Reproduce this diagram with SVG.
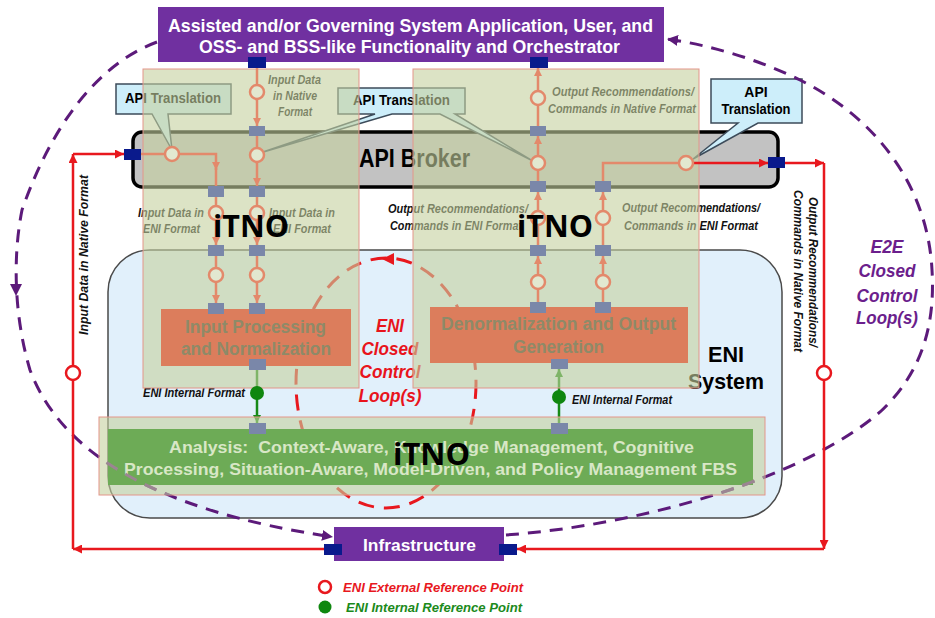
<svg xmlns="http://www.w3.org/2000/svg" width="935" height="618" viewBox="0 0 935 618">
<defs>
<style>
.lbl{font-family:"Liberation Sans",Arial,sans-serif;font-weight:bold;font-style:italic;font-size:12px;fill:#111}
.b{font-family:"Liberation Sans",Arial,sans-serif;font-weight:bold}
.ov{fill:#c4d09f;fill-opacity:0.6;stroke:#e3958a;stroke-width:1}
.pd{fill:#0a1a8c}
.pg{fill:#7a87a9}
.fl{fill:none;stroke:#e3896b;stroke-width:2.5}
.fc{fill:#e2e8d0;stroke:#e3896b;stroke-width:2.5}
.rd{fill:none;stroke:#e8181e;stroke-width:2.5}
.gr{fill:none;stroke:#178a17;stroke-width:2.5}
.co{fill:#cdeefa;stroke:#3c4b5a;stroke-width:1.5}
.pu{fill:none;stroke:#5c1a7a;stroke-width:3;stroke-dasharray:13 9}
</style>
<marker id="aR" viewBox="0 0 10 10" refX="10" refY="5" markerWidth="9" markerHeight="9" markerUnits="userSpaceOnUse" orient="auto"><path d="M0,0L10,5L0,10z" fill="#e8181e"/></marker>
<marker id="aS" viewBox="0 0 10 10" refX="10" refY="5" markerWidth="8" markerHeight="8" markerUnits="userSpaceOnUse" orient="auto"><path d="M0,0L10,5L0,10z" fill="#e3896b"/></marker>
<marker id="aG" viewBox="0 0 10 10" refX="10" refY="5" markerWidth="8" markerHeight="8" markerUnits="userSpaceOnUse" orient="auto"><path d="M0,0L10,5L0,10z" fill="#178a17"/></marker>
<marker id="aP" viewBox="0 0 10 10" refX="10" refY="5" markerWidth="11" markerHeight="11" markerUnits="userSpaceOnUse" orient="auto"><path d="M0,0L10,5L0,10z" fill="#5c1a7a"/></marker>
<marker id="aE" viewBox="0 0 10 10" refX="5" refY="5" markerWidth="12" markerHeight="12" markerUnits="userSpaceOnUse" orient="auto"><path d="M0,0L10,5L0,10z" fill="#e8181e"/></marker>
<clipPath id="botov"><rect x="99" y="417" width="666" height="78"/></clipPath>
</defs>
<rect width="935" height="618" fill="#fff"/>

<g id="eni-system">
<rect x="108" y="250" width="674" height="268" rx="42" fill="#e1f0fb" stroke="#4a4a4a" stroke-width="1.5"/>
</g>

<g id="api-broker">
<rect x="133" y="132" width="645" height="55" rx="9" fill="#c2c2c2" stroke="#000" stroke-width="3.5"/>
<text class="b" x="359" y="167" font-size="25" textLength="111" lengthAdjust="spacingAndGlyphs" fill="#000">API Broker</text>
</g>

<g id="orchestrator">
<rect x="158" y="7" width="506" height="55" fill="#7030a0"/>
<text class="b" x="168" y="32" font-size="19" fill="#fff" textLength="485" lengthAdjust="spacingAndGlyphs">Assisted and/or Governing System Application, User, and</text>
<text class="b" x="199" y="53" font-size="19" fill="#fff" textLength="421" lengthAdjust="spacingAndGlyphs">OSS- and BSS-like Functionality and Orchestrator</text>
</g>

<g id="callouts">
<g id="callout-left"><path class="co" d="M116,84H231V114H168L172,150L152,114H116Z"/>
<text class="b" x="125" y="103" font-size="14" textLength="96" lengthAdjust="spacingAndGlyphs" fill="#000">API Translation</text></g>
<g id="callout-mid"><path class="co" d="M338,88H465V114H455L531,160L440,114H392L260,153L375,114H338Z"/>
<text class="b" x="353" y="105" font-size="14" textLength="97" lengthAdjust="spacingAndGlyphs" fill="#000">API Translation</text></g>
<g id="callout-right"><path class="co" d="M711,79H802V123H758L693,159L738,123H711Z"/>
<text class="b" x="756" y="97" font-size="14" text-anchor="middle" fill="#000">API</text>
<text class="b" x="756" y="114" font-size="14" text-anchor="middle" textLength="69" lengthAdjust="spacingAndGlyphs" fill="#000">Translation</text></g>
</g>

<g id="eni-loop">
<ellipse cx="386" cy="383" rx="90" ry="125" fill="none" stroke="#e8181e" stroke-width="3" stroke-dasharray="16 10"/>
<path d="M382,259L394,253L394,265Z" fill="#e8181e"/>
<g class="b" font-style="italic" font-size="18" fill="#e8141c" text-anchor="middle">
<text x="390" y="332" textLength="28" lengthAdjust="spacingAndGlyphs">ENI</text>
<text x="390" y="355" textLength="57" lengthAdjust="spacingAndGlyphs">Closed</text>
<text x="390" y="378" textLength="61" lengthAdjust="spacingAndGlyphs">Control</text>
<text x="390" y="402" textLength="63" lengthAdjust="spacingAndGlyphs">Loop(s)</text>
</g>
</g>

<g id="eni-system-label" class="b" font-size="22" fill="#000" text-anchor="middle">
<text x="726" y="362" textLength="36" lengthAdjust="spacingAndGlyphs">ENI</text>
<text x="726" y="389" textLength="76" lengthAdjust="spacingAndGlyphs">System</text>
</g>

<g id="connectors-under">
<path class="pu" d="M157,42C95,65 50,130 22,210C12,260 15,320 30,370C60,450 150,510 333,537" marker-end="url(#aP)"/>
<path d="M10,284L22,284L16,296Z" fill="#5c1a7a"/>
<path class="pu" d="M506,535C640,525 800,480 880,412C925,370 935,320 932,270C928,190 880,120 800,80C760,60 710,45 667,39" marker-end="url(#aP)"/>
<path class="gr" d="M257,370V423" marker-end="url(#aG)"/>
<path class="gr" d="M559,423V369" marker-end="url(#aG)"/>
</g>

<g id="labels" class="lbl">
<text x="268" y="84" textLength="53" lengthAdjust="spacingAndGlyphs">Input Data</text>
<text x="273" y="100" textLength="44" lengthAdjust="spacingAndGlyphs">in Native</text>
<text x="278" y="116" textLength="34" lengthAdjust="spacingAndGlyphs">Format</text>
<text x="138" y="217" textLength="66" lengthAdjust="spacingAndGlyphs">Input Data in</text>
<text x="143" y="233" textLength="57" lengthAdjust="spacingAndGlyphs">ENI Format</text>
<text x="269" y="217" textLength="66" lengthAdjust="spacingAndGlyphs">Input Data in</text>
<text x="273" y="233" textLength="58" lengthAdjust="spacingAndGlyphs">ENI Format</text>
<text x="388" y="213" textLength="140" lengthAdjust="spacingAndGlyphs">Output Recommendations/</text>
<text x="390" y="230" textLength="132" lengthAdjust="spacingAndGlyphs">Commands in ENI Format</text>
<text x="622" y="212" textLength="138" lengthAdjust="spacingAndGlyphs">Output Recommendations/</text>
<text x="624" y="230" textLength="134" lengthAdjust="spacingAndGlyphs">Commands in ENI Format</text>
<text x="552" y="96" textLength="142" lengthAdjust="spacingAndGlyphs">Output Recommendations/</text>
<text x="548" y="113" textLength="148" lengthAdjust="spacingAndGlyphs">Commands in Native Format</text>
<text x="143" y="397" textLength="102" lengthAdjust="spacingAndGlyphs">ENI Internal Format</text>
<text x="572" y="404" textLength="100" lengthAdjust="spacingAndGlyphs">ENI Internal Format</text>
<text transform="translate(88,335) rotate(-90)" textLength="160" lengthAdjust="spacingAndGlyphs">Input Data in Native Format</text>
<text transform="translate(809,197) rotate(90)" textLength="150" lengthAdjust="spacingAndGlyphs">Output Recommendations/</text>
<text transform="translate(794,190) rotate(90)" textLength="162" lengthAdjust="spacingAndGlyphs">Commands in Native Format</text>
</g>

<g id="itno-overlays">
<rect class="ov" x="143" y="69" width="216" height="319"/>
<rect class="ov" x="413" y="69" width="286" height="319"/>
<rect class="ov" x="99" y="417" width="666" height="78"/>
</g>

<g id="input-processing">
<rect x="161" y="309" width="190" height="57" fill="#dc7d5c"/>
<g class="b" font-size="18" fill="#8e8a68">
<text x="185" y="333" textLength="141" lengthAdjust="spacingAndGlyphs">Input Processing</text>
<text x="181" y="355" textLength="150" lengthAdjust="spacingAndGlyphs">and Normalization</text>
</g>
</g>

<g id="denormalization">
<rect x="430" y="307" width="258" height="56" fill="#dc7d5c"/>
<g class="b" font-size="18" fill="#8e8a68">
<text x="441" y="330" textLength="235" lengthAdjust="spacingAndGlyphs">Denormalization and Output</text>
<text x="513" y="353" textLength="91" lengthAdjust="spacingAndGlyphs">Generation</text>
</g>
</g>

<g id="analysis">
<rect x="108" y="429" width="645" height="56" fill="#6dab56"/>
<g class="b" font-size="17" fill="#d8e7c6">
<text x="169" y="453" textLength="525" lengthAdjust="spacingAndGlyphs" xml:space="preserve">Analysis:  Context-Aware, Knowledge Management, Cognitive</text>
<text x="124" y="475" textLength="613" lengthAdjust="spacingAndGlyphs">Processing, Situation-Aware, Model-Driven, and Policy Management FBS</text>
</g>
</g>

<g id="connectors">
<g clip-path="url(#botov)">
<path d="M157,42C95,65 50,130 22,210C12,260 15,320 30,370C60,450 150,510 333,537" fill="none" stroke="#9b8592" stroke-width="3" stroke-dasharray="13 9"/>
<path d="M506,535C640,525 800,480 880,412" fill="none" stroke="#9b8592" stroke-width="3" stroke-dasharray="13 9"/>
</g>
<path class="rd" d="M325,549H73" marker-end="url(#aR)"/>
<path class="rd" d="M73,549V154" marker-end="url(#aR)"/>
<path class="rd" d="M73,154H124" marker-end="url(#aR)"/>
<path class="rd" d="M693,163H768" marker-end="url(#aR)"/>
<path class="rd" d="M785,163H824" marker-end="url(#aR)"/>
<path class="rd" d="M824,163V549" marker-end="url(#aR)"/>
<path class="rd" d="M824,549H517" marker-end="url(#aR)"/>
<circle cx="73" cy="373" r="7" fill="#fff" stroke="#e8181e" stroke-width="2.5"/>
<circle cx="824" cy="373" r="7" fill="#fff" stroke="#e8181e" stroke-width="2.5"/>
<path class="fl" d="M257,68V126" marker-end="url(#aS)"/>
<path class="fl" d="M257,136V186" marker-end="url(#aS)"/>
<path class="fl" d="M257,197V245" marker-end="url(#aS)"/>
<path class="fl" d="M257,256V303" marker-end="url(#aS)"/>
<path class="fl" d="M140,154H216V170" marker-end="url(#aS)"/>
<path class="fl" d="M216,168V186"/>
<path class="fl" d="M216,197V245" marker-end="url(#aS)"/>
<path class="fl" d="M216,256V303" marker-end="url(#aS)"/>
<path class="fl" d="M538,302V256" marker-end="url(#aS)"/>
<path class="fl" d="M538,245V192" marker-end="url(#aS)"/>
<path class="fl" d="M538,181V136" marker-end="url(#aS)"/>
<path class="fl" d="M538,126V68" marker-end="url(#aS)"/>
<path class="fl" d="M603,302V256" marker-end="url(#aS)"/>
<path class="fl" d="M603,245V192" marker-end="url(#aS)"/>
<path class="fl" d="M603,181V163H680"/>
<circle class="fc" cx="257" cy="92" r="7"/>
<circle class="fc" cx="257" cy="155" r="7"/>
<circle class="fc" cx="172" cy="154" r="7"/>
<circle class="fc" cx="216" cy="213" r="7"/>
<circle class="fc" cx="257" cy="213" r="7"/>
<circle class="fc" cx="216" cy="275" r="7"/>
<circle class="fc" cx="257" cy="275" r="7"/>
<circle class="fc" cx="538" cy="98" r="7"/>
<circle class="fc" cx="538" cy="163" r="7"/>
<circle class="fc" cx="538" cy="218" r="7"/>
<circle class="fc" cx="603" cy="218" r="7"/>
<circle class="fc" cx="538" cy="282" r="7"/>
<circle class="fc" cx="603" cy="282" r="7"/>
<circle class="fc" cx="686" cy="163" r="7"/>
<circle cx="257" cy="393" r="7" fill="#0f870f"/>
<circle cx="559" cy="397" r="7" fill="#0f870f"/>
</g>

<g id="ports">
<rect class="pd" x="248" y="57" width="18" height="11"/>
<rect class="pd" x="530" y="57" width="18" height="11"/>
<rect class="pd" x="124" y="149" width="17" height="11"/>
<rect class="pd" x="768" y="157" width="17" height="11"/>
<rect class="pd" x="324" y="544" width="18" height="11"/>
<rect class="pd" x="499" y="544" width="18" height="11"/>
<rect class="pg" x="249" y="126" width="16" height="10"/>
<rect class="pg" x="208" y="186" width="16" height="11"/>
<rect class="pg" x="249" y="186" width="16" height="11"/>
<rect class="pg" x="208" y="245" width="16" height="11"/>
<rect class="pg" x="249" y="245" width="16" height="11"/>
<rect class="pg" x="208" y="303" width="16" height="11"/>
<rect class="pg" x="249" y="303" width="16" height="11"/>
<rect class="pg" x="249" y="359" width="17" height="11"/>
<rect class="pg" x="249" y="423" width="17" height="11"/>
<rect class="pg" x="530" y="126" width="16" height="10"/>
<rect class="pg" x="530" y="181" width="16" height="11"/>
<rect class="pg" x="595" y="181" width="16" height="11"/>
<rect class="pg" x="530" y="245" width="16" height="11"/>
<rect class="pg" x="595" y="245" width="16" height="11"/>
<rect class="pg" x="530" y="302" width="16" height="11"/>
<rect class="pg" x="595" y="302" width="16" height="11"/>
<rect class="pg" x="551" y="359" width="17" height="10"/>
<rect class="pg" x="551" y="423" width="17" height="11"/>
</g>

<g id="infrastructure">
<rect x="334" y="527" width="170" height="34" fill="#7030a0"/>
<text class="b" x="363" y="551" font-size="17" fill="#fff" textLength="113" lengthAdjust="spacingAndGlyphs">Infrastructure</text>
</g>
<g id="infra-ports">
<rect class="pd" x="324" y="544" width="18" height="11"/>
<rect class="pd" x="499" y="544" width="18" height="11"/>
</g>

<g id="e2e-label" class="b" font-style="italic" font-size="18" fill="#6b1e8c" text-anchor="middle">
<text x="887" y="253" textLength="33" lengthAdjust="spacingAndGlyphs">E2E</text>
<text x="887" y="277" textLength="57" lengthAdjust="spacingAndGlyphs">Closed</text>
<text x="887" y="302" textLength="61" lengthAdjust="spacingAndGlyphs">Control</text>
<text x="887" y="324" textLength="62" lengthAdjust="spacingAndGlyphs">Loop(s)</text>
</g>

<g id="itno-labels" font-family="'Open Sans','Liberation Sans',sans-serif" font-weight="bold" font-size="30" fill="#000">
<text x="213" y="237" textLength="76" lengthAdjust="spacingAndGlyphs">iTNO</text>
<text x="517" y="237" textLength="76" lengthAdjust="spacingAndGlyphs">iTNO</text>
<text x="393" y="465" textLength="77" lengthAdjust="spacingAndGlyphs">iTNO</text>
</g>

<g id="legend">
<circle cx="325" cy="587" r="6" fill="#fff" stroke="#e8181e" stroke-width="2.5"/>
<text class="b" x="343" y="592" font-size="12" font-style="italic" fill="#e8181e" textLength="180" lengthAdjust="spacingAndGlyphs">ENI External Reference Point</text>
<circle cx="325" cy="607" r="6.5" fill="#0f870f"/>
<text class="b" x="346" y="612" font-size="12" font-style="italic" fill="#1b8a1b" textLength="176" lengthAdjust="spacingAndGlyphs">ENI Internal Reference Point</text>
</g>
</svg>
